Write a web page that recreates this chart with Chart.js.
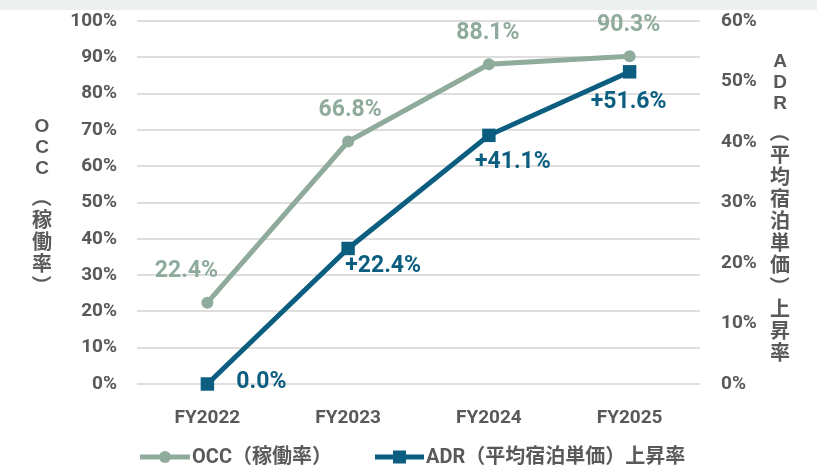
<!DOCTYPE html>
<html>
<head>
<meta charset="utf-8">
<script src="https://cdn.jsdelivr.net/npm/chart.js@4.4.1/dist/chart.umd.min.js"></script>
<style>
  html, body { margin: 0; padding: 0; background: #fff; }
  #wrap { width: 817px; height: 466px; position: relative; }
</style>
</head>
<body>
<div id="wrap"><canvas id="occChart" width="817" height="466"></canvas></div>
<script>
// data
const categories = ['FY2022', 'FY2023', 'FY2024', 'FY2025'];
const occValues = [22.4, 66.8, 88.1, 90.3];   // left axis, %
const adrValues = [0.0, 22.4, 41.1, 51.6];    // right axis, %
const occLabel = 'OCC（稼働率）';
const adrLabel = 'ADR（平均宿泊単価）上昇率';

const OCC_COLOR = '#8fab9b';
const ADR_COLOR = '#0b5e80';
const TICK_COLOR = '#595959';
const FONT = "Roboto, 'Noto Sans CJK JP', sans-serif";

/* gray strip along the top */
const topBand = {
    id: 'topBand',
    beforeDraw(chart) {
        const c = chart.ctx;
        c.save();
        c.fillStyle = '#eef0ef';
        c.fillRect(0, 0, chart.width, 10);
        c.restore();
    }
};

/* value labels next to each point */
const valueLabels = {
    id: 'valueLabels',
    afterDatasetsDraw(chart, args, opts) {
        const c = chart.ctx;
        c.save();
        c.font = 'bold 23px ' + FONT;
        c.textAlign = 'center';
        c.textBaseline = 'middle';
        chart.data.datasets.forEach(function (ds, di) {
            const meta = chart.getDatasetMeta(di);
            const offs = opts.offsets[di];
            c.fillStyle = ds.borderColor;
            meta.data.forEach(function (pt, i) {
                const v = ds.data[i];
                let txt = v.toFixed(1) + '%';
                if (di === 1 && v > 0) txt = '+' + txt;
                c.fillText(txt, pt.x + offs[i][0], pt.y + offs[i][1]);
            });
        });
        c.restore();
    }
};

/* upright stacked axis titles */
function drawVertical(c, text, cx, firstY) {
    let y = firstY;
    let prevLatin = null, prevAdv = 0;
    for (const ch of text) {
        const latin = /[A-Za-z0-9]/.test(ch);
        const adv = latin ? 21 : 22;
        if (prevLatin !== null) {
            y += prevAdv / 2 + adv / 2;
            if (prevLatin !== latin) y += 6.5;
        }
        c.font = latin ? "bold 19px 'Liberation Sans', sans-serif" : "bold 20px 'Noto Sans CJK JP', sans-serif";
        if (ch === '（' || ch === '）') {
            c.save();
            c.translate(cx, y);
            c.rotate(Math.PI / 2);
            c.fillText(ch, 0, 0);
            c.restore();
        } else {
            c.fillText(ch, cx, y);
        }
        prevLatin = latin;
        prevAdv = adv;
    }
}

const axisTitles = {
    id: 'axisTitles',
    afterDraw(chart) {
        const c = chart.ctx;
        c.save();
        c.fillStyle = TICK_COLOR;
        c.textAlign = 'center';
        c.textBaseline = 'middle';
        drawVertical(c, occLabel, 42, 127);
        drawVertical(c, adrLabel, 780, 62);
        c.restore();
    }
};

/* legend: line with marker, then text */
const lineLegend = {
    id: 'lineLegend',
    afterDraw(chart) {
        const c = chart.ctx;
        const y = 457;
        const items = [{ x0: 140, x1: 190, tx: 192 }, { x0: 375, x1: 424, tx: 426 }];
        c.save();
        c.font = 'bold 20px ' + FONT;
        c.textBaseline = 'middle';
        c.textAlign = 'left';
        chart.data.datasets.forEach(function (ds, i) {
            const it = items[i];
            c.strokeStyle = ds.borderColor;
            c.fillStyle = ds.borderColor;
            c.lineWidth = 5;
            c.beginPath();
            c.moveTo(it.x0, y);
            c.lineTo(it.x1, y);
            c.stroke();
            const mx = (it.x0 + it.x1) / 2;
            if (ds.pointStyle === 'rect') {
                c.fillRect(mx - 6.5, y - 6.5, 13, 13);
            } else {
                c.beginPath();
                c.arc(mx, y, 6, 0, Math.PI * 2);
                c.fill();
            }
            c.fillStyle = TICK_COLOR;
            c.fillText(ds.label, it.tx, y + 1);
        });
        c.restore();
    }
};

// keep the plot box fixed: tick padding would otherwise push the top down
function fixVertical(width) {
    return function (s) {
        s.width = width;
        s.paddingTop = 10;
        s.paddingBottom = 10;
    };
}

const ctx = document.getElementById('occChart').getContext('2d');
const myChart = new Chart(ctx, {
    type: 'line',
    data: {
        labels: categories,
        datasets: [{
            label: occLabel,
            data: occValues,
            yAxisID: 'y',
            borderColor: OCC_COLOR,
            backgroundColor: OCC_COLOR,
            borderWidth: 5,
            pointStyle: 'circle',
            pointRadius: 6,
            pointBorderWidth: 0,
            tension: 0,
            clip: false
        }, {
            label: adrLabel,
            data: adrValues,
            yAxisID: 'y1',
            borderColor: ADR_COLOR,
            backgroundColor: ADR_COLOR,
            borderWidth: 5,
            pointStyle: 'rect',
            pointRadius: 9.5,
            pointBorderWidth: 0,
            tension: 0,
            clip: false
        }]
    },
    options: {
        responsive: false,
        animation: false,
        devicePixelRatio: 1,
        layout: { padding: { top: 21, bottom: 40, left: 0, right: 0 } },
        plugins: {
            legend: { display: false },
            tooltip: { enabled: false },
            valueLabels: {
                offsets: [
                    [[-21, -31], [2, -31], [-1, -31], [-1, -31]],
                    [[54, -2], [35, 18], [24, 27], [-1, 30]]
                ]
            }
        },
        scales: {
            x: {
                offset: true,
                grid: { display: false },
                border: { display: false },
                ticks: { color: TICK_COLOR, font: { family: FONT, size: 19, weight: 'bold' }, padding: 15 },
                afterFit(s) { s.height = 42; }
            },
            y: {
                position: 'left',
                min: 0,
                max: 100,
                grid: { color: '#dedede', lineWidth: 2, drawTicks: false },
                border: { display: false },
                ticks: {
                    stepSize: 10,
                    padding: 20,
                    color: TICK_COLOR,
                    font: { family: FONT, size: 19, weight: 'bold' },
                    callback: function (v) { return v + '%'; }
                },
                afterFit: fixVertical(137)
            },
            y1: {
                position: 'right',
                min: 0,
                max: 60,
                grid: { drawOnChartArea: false, drawTicks: false },
                border: { display: false },
                ticks: {
                    stepSize: 10,
                    padding: 21,
                    color: TICK_COLOR,
                    font: { family: FONT, size: 19, weight: 'bold' },
                    callback: function (v) { return v + '%'; }
                },
                afterFit: fixVertical(117)
            }
        }
    },
    plugins: [topBand, valueLabels, axisTitles, lineLegend]
});
</script>
</body>
</html>
